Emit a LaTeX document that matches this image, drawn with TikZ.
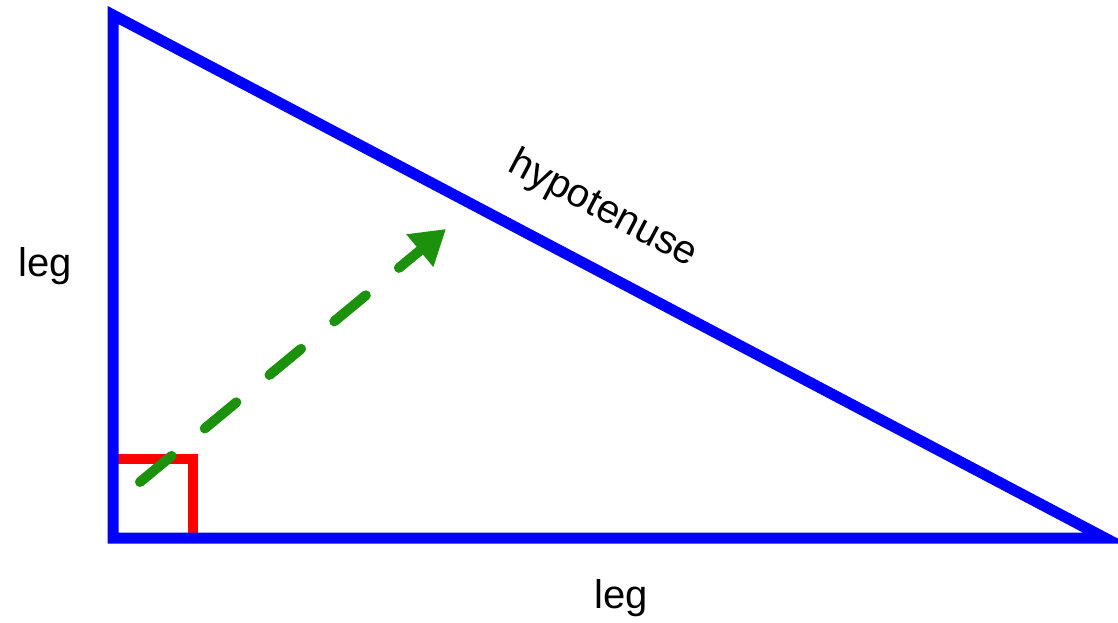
\documentclass[tikz,border=0pt]{standalone}
\usepackage{fontspec}
\setmainfont{Liberation Sans}
\usetikzlibrary{arrows.meta}
\definecolor{legblue}{RGB}{0,0,255}
\definecolor{rightred}{RGB}{255,0,0}
\definecolor{arrowgreen}{RGB}{28,145,12}
\tikzset{
  side/.style={draw=legblue, line width=11pt, line join=miter},
  rightmark/.style={draw=rightred, line width=10pt},
  dirarrow/.style={draw=arrowgreen, line width=10pt, line cap=round,
    dash pattern=on 41pt off 43pt,
    -{Triangle[length=34pt,width=40pt]}},
  lbl/.style={font=\fontsize{40}{48}\selectfont, text=black, inner sep=0pt}
}
\begin{document}
\begin{tikzpicture}[x=1pt,y=-1pt]
\useasboundingbox (0,0) rectangle (1118,622);
\coordinate (A) at (113,15);
\coordinate (B) at (113,538);
\coordinate (C) at (1105,538);
\coordinate (S1) at (113,459);
\coordinate (S2) at (193,459);
\coordinate (S3) at (193,538);
\coordinate (P) at (140,482);
\coordinate (Q) at (446,229);
\draw[rightmark] (S1) -- (S2) -- (S3);
\draw[side] (A) -- (B) -- (C) -- cycle;
\draw[dirarrow] (P) -- (Q);
\node[lbl, anchor=base] (legv) at (45,276) {leg};
\node[lbl, anchor=base] (legh) at (621,608) {leg};
\node[lbl, anchor=center, rotate=-27.8] (hyp) at (603,210) {hypotenuse};
\end{tikzpicture}
\end{document}
